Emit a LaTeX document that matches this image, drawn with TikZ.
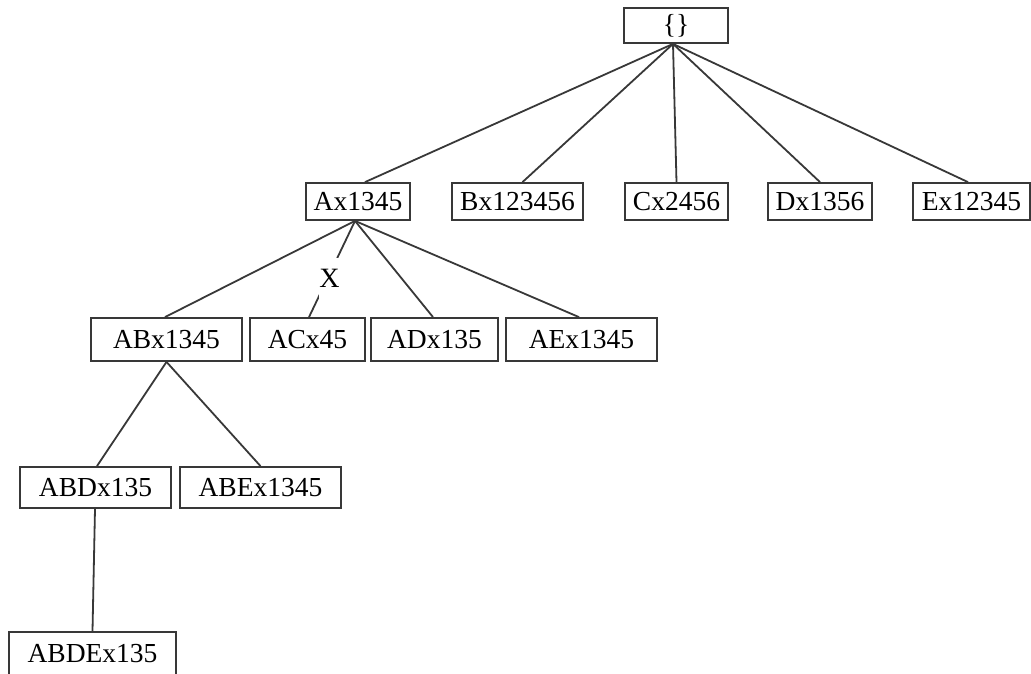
\documentclass[tikz,border=0pt]{standalone}
\usepackage{fontspec}
\setmainfont{Liberation Serif}
\begin{document}
\begin{tikzpicture}[x=1pt,y=-1pt,
  box/.style={draw=black!78, line width=1.8pt, inner sep=0pt,
              font=\fontsize{27.5}{30}\selectfont},
  link/.style={draw=black!78, line width=1.8pt},
  cut/.style={fill=white, inner sep=0pt, minimum width=14pt, minimum height=42pt,
              font=\fontsize{28}{30}\selectfont}
]
\useasboundingbox (0,0) rectangle (1031,673);
\clip (0,0) rectangle (1031,673);

% root
\node[box, minimum width=104pt, minimum height=35pt] (root) at (676,25.5) {\{\}};

% first level
\node[box, minimum width=104pt, minimum height=37pt] (ax) at (358,201.5) {Ax1345};
\node[box, minimum width=131pt, minimum height=37pt] (bx) at (517.5,201.5) {Bx123456};
\node[box, minimum width=103pt, minimum height=37pt] (cx) at (676.5,201.5) {Cx2456};
\node[box, minimum width=104pt, minimum height=37pt] (dx) at (820,201.5) {Dx1356};
\node[box, minimum width=117pt, minimum height=37pt] (ex) at (971.5,201.5) {Ex12345};

% second level
\node[box, minimum width=151pt, minimum height=43pt] (abx) at (166.5,339.5) {ABx1345};
\node[box, minimum width=115pt, minimum height=43pt] (acx) at (307.5,339.5) {ACx45};
\node[box, minimum width=127pt, minimum height=43pt] (adx) at (434.5,339.5) {ADx135};
\node[box, minimum width=151pt, minimum height=43pt] (aex) at (581.5,339.5) {AEx1345};

% third level
\node[box, minimum width=151pt, minimum height=41pt] (abdx) at (95.5,487.5) {ABDx135};
\node[box, minimum width=161pt, minimum height=41pt] (abex) at (260.5,487.5) {ABEx1345};

% fourth level
\node[box, minimum width=167pt, minimum height=44pt] (abdex) at (92.5,654) {ABDEx135};

% connectors
\coordinate (rt) at ([xshift=-3pt]root.south);
\draw[link] (rt) -- ([xshift=7pt]ax.north);
\draw[link] (rt) -- ([xshift=5pt]bx.north);
\draw[link] (rt) -- (cx.north);
\draw[link] (rt) -- (dx.north);
\draw[link] (rt) -- ([xshift=-3.5pt]ex.north);

\coordinate (as) at ([xshift=-3pt]ax.south);
\draw[link] (as) -- ([xshift=-1.5pt]abx.north);
\draw[link] (as) -- node[cut, pos=0.6, xshift=2pt] (xmark) {X} ([xshift=1.5pt]acx.north);
\draw[link] (as) -- ([xshift=-1.5pt]adx.north);
\draw[link] (as) -- ([xshift=-2.5pt]aex.north);

\draw[link] (abx.south) -- ([xshift=1.5pt]abdx.north);
\draw[link] (abx.south) -- (abex.north);

\draw[link] ([xshift=-0.5pt]abdx.south) -- (abdex.north);
\end{tikzpicture}
\end{document}
